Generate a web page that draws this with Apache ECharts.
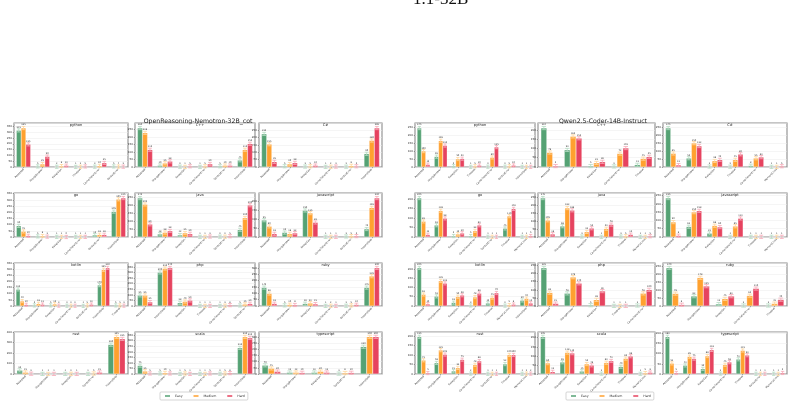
<!DOCTYPE html>
<html>
<head>
<meta charset="utf-8">
<script src="https://cdn.jsdelivr.net/npm/echarts@6/dist/echarts.min.js"></script>
<style>
  html, body { margin: 0; background: #fff; }
  #chart { width: 795px; height: 405px; }
</style>
</head>
<body>
<div id="chart"></div>
<script>
const languages = ['python', 'C++', 'C#', 'go', 'java', 'javascript', 'kotlin', 'php', 'ruby', 'rust', 'scala', 'typescript'];
const difficulties = ['Easy', 'Medium', 'Hard'];
const colors = ['#55a274', '#ffa12f', '#e6435f'];
const errColors = ['#b5dcc3', '#ffd59c', '#f6aab8'];

// OpenReasoning-Nemotron-32B_cot
const nemoCats = [
  ['Accepted', 'WrongAnswer', 'Exception', 'Timeout', 'CompilationError', 'SyntaxError'],
  ['Accepted', 'WrongAnswer', 'Exception', 'CompilationError', 'SyntaxError', 'Incomplete'],
  ['Accepted', 'WrongAnswer', 'Exception', 'CompilationError', 'SyntaxError', 'Incomplete'],
  ['Accepted', 'WrongAnswer', 'Exception', 'CompilationError', 'SyntaxError', 'Incomplete'],
  ['Accepted', 'WrongAnswer', 'Exception', 'CompilationError', 'SyntaxError', 'Incomplete'],
  ['Accepted', 'WrongAnswer', 'Exception', 'CompilationError', 'SyntaxError', 'Incomplete'],
  ['Accepted', 'WrongAnswer', 'Exception', 'CompilationError', 'SyntaxError', 'Incomplete', 'Timeout'],
  ['Accepted', 'Incomplete', 'Exception', 'Timeout', 'CompilationError', 'SyntaxError'],
  ['Accepted', 'WrongAnswer', 'Exception', 'CompilationError', 'SyntaxError', 'Incomplete'],
  ['Accepted', 'WrongAnswer', 'Exception', 'SyntaxError', 'Incomplete'],
  ['Accepted', 'WrongAnswer', 'Exception', 'CompilationError', 'SyntaxError', 'Incomplete'],
  ['Accepted', 'WrongAnswer', 'Exception', 'SyntaxError', 'Incomplete']
];
const nemoEasy = [
  [315, 5, 2, 1, 3, 5],
  [260, 10, 2, 1, 5, 45],
  [225, 5, 3, 1, 2, 90],
  [90, 5, 1, 1, 15, 205],
  [245, 18, 12, 1, 2, 45],
  [95, 25, 150, 1, 3, 45],
  [135, 5, 5, 2, 1, 170, 5],
  [95, 300, 28, 1, 1, 5],
  [145, 5, 18, 1, 2, 145],
  [35, 1, 1, 1, 280],
  [75, 5, 1, 1, 2, 235],
  [70, 12, 12, 3, 220]
];
const nemoMedium = [
  [335, 25, 8, 2, 10, 4],
  [228, 25, 1, 5, 10, 115],
  [155, 20, 5, 2, 8, 180],
  [45, 8, 1, 1, 18, 305],
  [205, 28, 25, 1, 2, 120],
  [60, 18, 135, 1, 5, 165],
  [40, 18, 15, 2, 5, 295, 5],
  [95, 335, 40, 1, 3, 15],
  [98, 10, 22, 2, 5, 235],
  [15, 1, 2, 5, 355],
  [25, 10, 5, 1, 5, 335],
  [45, 12, 20, 8, 300]
];
const nemoHard = [
  [195, 90, 12, 5, 35, 3],
  [115, 38, 5, 20, 10, 155],
  [35, 28, 10, 3, 5, 265],
  [10, 3, 0, 1, 18, 315],
  [80, 38, 20, 3, 5, 200],
  [18, 22, 82, 1, 5, 220],
  [10, 12, 3, 2, 12, 310, 3],
  [35, 340, 50, 1, 8, 20],
  [18, 8, 15, 1, 10, 300],
  [3, 1, 1, 15, 335],
  [5, 5, 1, 5, 8, 325],
  [20, 10, 12, 10, 300]
];

// Qwen2.5-Coder-14B-Instruct
const qwenCats = [
  ['Accepted', 'WrongAnswer', 'Exception', 'Timeout', 'CompilationError', 'SyntaxError', 'Incomplete'],
  ['Accepted', 'WrongAnswer', 'Exception', 'CompilationError', 'Timeout'],
  ['Accepted', 'WrongAnswer', 'Exception', 'Timeout', 'CompilationError', 'MemoryLimit'],
  ['Accepted', 'WrongAnswer', 'Exception', 'CompilationError', 'SyntaxError', 'Timeout', 'MemoryLimit'],
  ['Accepted', 'WrongAnswer', 'Exception', 'CompilationError', 'Timeout', 'MemoryLimit'],
  ['Accepted', 'WrongAnswer', 'Exception', 'CompilationError', 'Timeout', 'MemoryLimit'],
  ['Accepted', 'WrongAnswer', 'Exception', 'CompilationError', 'Timeout', 'MemoryLimit', 'Incomplete'],
  ['Accepted', 'WrongAnswer', 'Exception', 'Timeout', 'CompilationError'],
  ['Accepted', 'WrongAnswer', 'Exception', 'CompilationError', 'Timeout'],
  ['Accepted', 'WrongAnswer', 'Exception', 'CompilationError', 'SyntaxError', 'Timeout', 'MemoryLimit'],
  ['Accepted', 'WrongAnswer', 'Exception', 'CompilationError', 'Timeout', 'MemoryLimit'],
  ['Accepted', 'WrongAnswer', 'Exception', 'CompilationError', 'Timeout', 'SyntaxError', 'MemoryLimit']
];
const qwenEasy = [
  [245, 65, 5, 1, 2, 2, 1],
  [210, 92, 5, 3, 12],
  [245, 55, 3, 2, 8, 1],
  [205, 62, 5, 5, 1, 45, 1],
  [245, 68, 3, 1, 3, 1],
  [235, 62, 22, 1, 1, 1],
  [205, 52, 18, 3, 15, 2, 30],
  [235, 78, 5, 1, 3],
  [240, 62, 12, 3, 3],
  [195, 58, 15, 2, 1, 52, 1],
  [205, 65, 15, 2, 40, 1],
  [182, 42, 25, 2, 72, 1, 1]
];
const qwenMedium = [
  [100, 165, 50, 5, 60, 5, 1],
  [78, 165, 22, 72, 45],
  [85, 150, 38, 45, 55, 1],
  [82, 138, 15, 32, 1, 110, 1],
  [105, 182, 32, 52, 5, 1],
  [90, 150, 68, 65, 1, 1],
  [62, 135, 50, 48, 45, 5, 40],
  [82, 178, 38, 1, 78],
  [78, 178, 45, 65, 15],
  [72, 125, 32, 48, 1, 100, 2],
  [60, 118, 55, 62, 85, 5],
  [52, 85, 88, 45, 115, 1, 1]
];
const qwenHard = [
  [15, 135, 52, 10, 125, 10, 1],
  [5, 155, 28, 102, 55],
  [12, 132, 45, 80, 62, 5],
  [12, 98, 20, 62, 1, 148, 5],
  [18, 168, 55, 78, 15, 5],
  [8, 158, 60, 112, 1, 1],
  [10, 122, 58, 68, 70, 8, 15],
  [15, 140, 92, 1, 100],
  [8, 125, 62, 110, 40],
  [5, 102, 75, 68, 1, 100, 2],
  [12, 115, 48, 72, 98, 8],
  [5, 75, 118, 58, 92, 1, 5]
];
const nemoInterval = [50, 50, 50, 50, 50, 50, 50, 50, 50, 100, 50, 50];
const qwenInterval = [50, 50, 50, 50, 50, 50, 50, 50, 50, 50, 50, 50];

const panels = [
  { title: 'OpenReasoning-Nemotron-32B_cot', cx: 193, cats: nemoCats, vals: [nemoEasy, nemoMedium, nemoHard], interval: nemoInterval,
    lefts: [14, 135, 259], widths: [114, 120, 123], legendLeft: 160 },
  { title: 'Qwen2.5-Coder-14B-Instruct', cx: 598, cats: qwenCats, vals: [qwenEasy, qwenMedium, qwenHard], interval: qwenInterval,
    lefts: [415, 538, 663], widths: [120, 117, 124], legendLeft: 566 }
];
const rowTops = [123, 193, 263, 332];
const rowHeights = [44, 44, 43, 42];
const font = 'DejaVu Sans';

const grid = [], xAxis = [], yAxis = [], series = [], title = [], legend = [];

function renderErr(params, api) {
  const c = api.coord([api.value(0), api.value(2)]);
  const band = api.size([1, 0])[0];
  const bw = band * 0.75 / 3;
  const x = c[0] + (api.value(1) - 1) * bw;
  const h = 1.6, cap = bw * 0.38;
  const st = { stroke: errColors[api.value(1)], lineWidth: 0.8 };
  return {
    type: 'group',
    children: [
      { type: 'line', shape: { x1: x, y1: c[1] - h, x2: x, y2: c[1] + h }, style: st },
      { type: 'line', shape: { x1: x - cap, y1: c[1] - h, x2: x + cap, y2: c[1] - h }, style: st },
      { type: 'line', shape: { x1: x - cap, y1: c[1] + h, x2: x + cap, y2: c[1] + h }, style: st }
    ]
  };
}

panels.forEach(p => {
  title.push({
    text: p.title, left: p.cx, top: 113, textAlign: 'center',
    textStyle: { fontFamily: font, fontSize: 6.2, fontWeight: 'normal', color: '#222' }
  });
  legend.push({
    left: p.legendLeft, top: 392, data: difficulties, icon: 'rect',
    itemWidth: 7, itemHeight: 3.6, itemGap: 9, padding: [1.2, 3],
    borderColor: '#bbb', borderWidth: 0.6, borderRadius: 1,
    textStyle: { fontFamily: font, fontSize: 3.2, color: '#333', padding: [0, 0, 0, -1] }
  });
  languages.forEach((lang, k) => {
    const row = Math.floor(k / 3), col = k % 3;
    const gi = grid.length;
    grid.push({
      left: p.lefts[col], top: rowTops[row], width: p.widths[col], height: rowHeights[row],
      show: true, borderColor: '#8c8c8c', borderWidth: 1.1, backgroundColor: '#fff'
    });
    title.push({
      text: lang, left: p.lefts[col] + p.widths[col] / 2, top: rowTops[row] - 4.5, textAlign: 'center',
      textStyle: { fontFamily: font, fontSize: 3.6, fontWeight: 'normal', color: '#222' }
    });
    xAxis.push({
      type: 'category', gridIndex: gi, data: p.cats[k],
      axisLine: { show: false },
      axisTick: { show: true, alignWithLabel: true, length: 1.2, lineStyle: { color: '#555', width: 0.5 } },
      axisLabel: { interval: 0, rotate: 45, fontSize: 2.6, margin: 2, color: '#333', fontFamily: font }
    });
    yAxis.push({
      type: 'value', gridIndex: gi, min: 0, interval: p.interval[k],
      max: v => v.max * 1.13,
      axisLine: { show: false },
      axisTick: { show: true, length: 1.2, lineStyle: { color: '#555', width: 0.5 } },
      axisLabel: { fontSize: 2.8, margin: 2, color: '#333', fontFamily: font, showMaxLabel: false },
      splitLine: { lineStyle: { color: '#ebebeb', width: 0.5 } }
    });
    const errData = [];
    difficulties.forEach((d, di) => {
      const vals = p.vals[di][k];
      vals.forEach((v, ci) => errData.push([ci, di, v]));
      series.push({
        name: d, type: 'bar', xAxisIndex: gi, yAxisIndex: gi, data: vals,
        barGap: '0%', barCategoryGap: '25%',
        itemStyle: { color: colors[di], borderColor: '#fff', borderWidth: 0.3 },
        label: { show: true, position: 'top', distance: 2.2, fontSize: 2.3, color: '#333', fontFamily: font },
        silent: true, animation: false
      });
    });
    series.push({
      type: 'custom', xAxisIndex: gi, yAxisIndex: gi, data: errData,
      renderItem: renderErr, z: 3, silent: true, animation: false
    });
  });
});

const chart = echarts.init(document.getElementById('chart'));
chart.setOption({
  animation: false,
  title, legend, grid, xAxis, yAxis, series,
  graphic: [{
    type: 'text', left: 413, top: -9,
    style: { text: "1.1-32B'", fontFamily: 'Liberation Serif', fontSize: 17, fill: '#111' }
  }]
});
</script>
</body>
</html>
